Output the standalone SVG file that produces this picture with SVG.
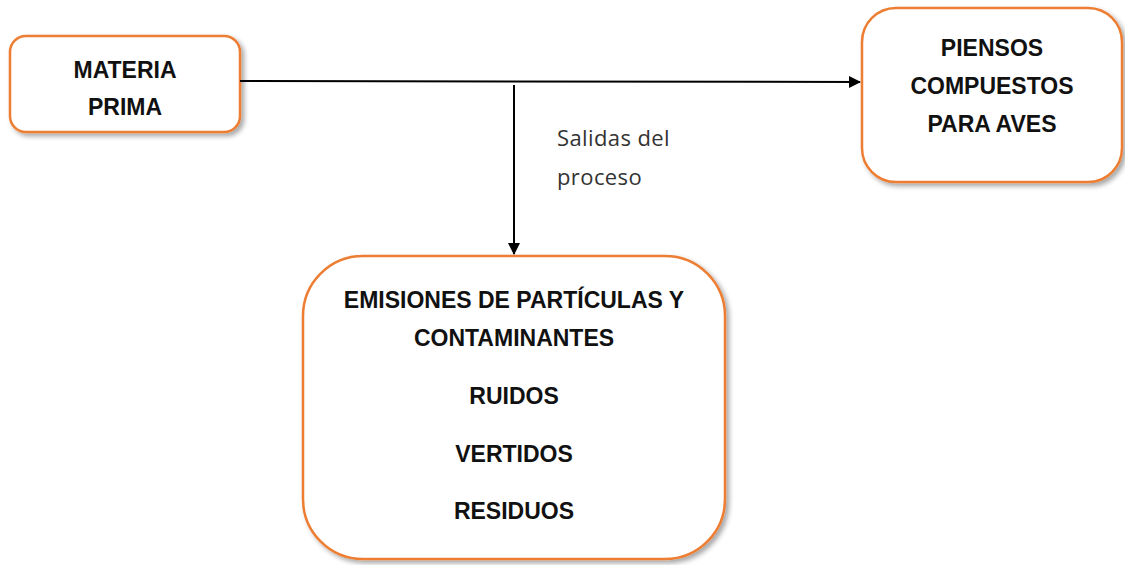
<svg xmlns="http://www.w3.org/2000/svg" width="1125" height="565" viewBox="0 0 1125 565">
<style>
.box{fill:#ffffff;stroke:#ED7D31;stroke-width:2.5;filter:url(#sh)}
.t{font-family:"Liberation Sans",Arial,sans-serif;font-weight:bold;font-size:23px;fill:#111;text-anchor:middle}
.lbl{font-family:"Open Sans","Liberation Sans",sans-serif;font-size:22px;letter-spacing:0.4px;fill:#333}
.conn{stroke:#000;stroke-width:2;fill:none;marker-end:url(#ah)}
</style>
<defs>
<filter id="sh" x="-10%" y="-10%" width="125%" height="125%">
<feDropShadow dx="3" dy="3" stdDeviation="2.5" flood-color="#000" flood-opacity="0.35"/>
</filter>
<marker id="ah" markerWidth="12" markerHeight="12" refX="11" refY="6" orient="auto" markerUnits="userSpaceOnUse" viewBox="0 0 12 12">
<path d="M0,0 L12,6 L0,12 Z" fill="#000"/>
</marker>
</defs>
<g id="materia-prima">
<rect class="box" x="10" y="36" width="230" height="96" rx="16"/>
<text class="t" x="125" y="78">MATERIA</text>
<text class="t" x="125" y="115">PRIMA</text>
</g>
<g id="piensos">
<rect class="box" x="862" y="8" width="260" height="174" rx="34"/>
<text class="t" x="992" y="56">PIENSOS</text>
<text class="t" x="992" y="94">COMPUESTOS</text>
<text class="t" x="992" y="132">PARA AVES</text>
</g>
<g id="emisiones">
<rect class="box" x="303" y="256" width="422" height="303" rx="60"/>
<text class="t" x="514" y="308">EMISIONES DE PARTÍCULAS Y</text>
<text class="t" x="514" y="346">CONTAMINANTES</text>
<text class="t" x="514" y="404">RUIDOS</text>
<text class="t" x="514" y="462">VERTIDOS</text>
<text class="t" x="514" y="519">RESIDUOS</text>
</g>
<g id="connectors">
<path class="conn" d="M240,81 L860,82"/>
<path class="conn" d="M514,85 L514,254"/>
<text class="lbl" x="557" y="146">Salidas del</text>
<text class="lbl" x="557" y="185">proceso</text>
</g>
</svg>
